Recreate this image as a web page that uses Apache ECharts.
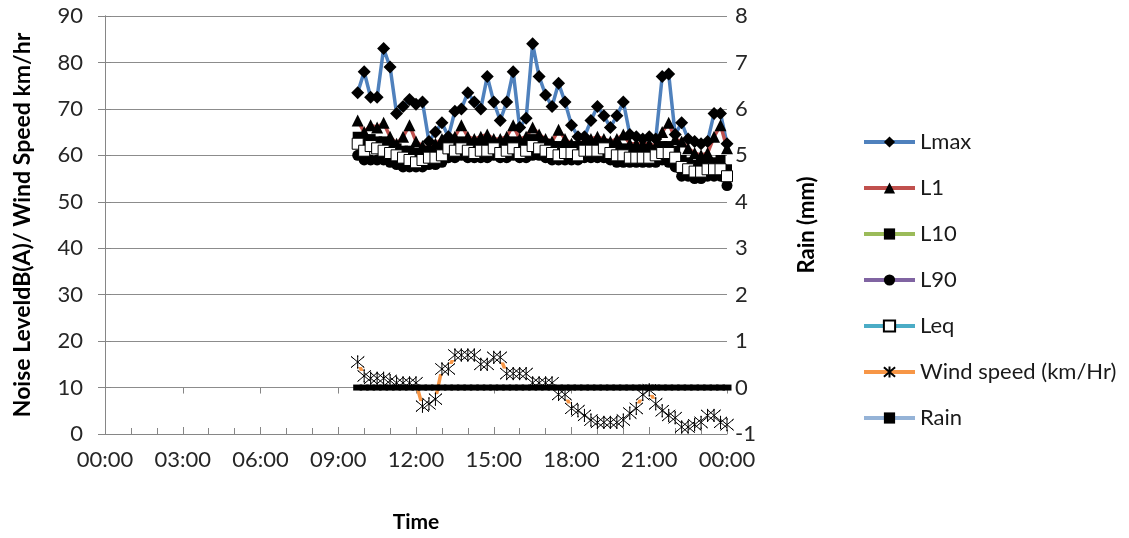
<!DOCTYPE html>
<html>
<head>
<meta charset="utf-8">
<script src="https://cdn.jsdelivr.net/npm/echarts@6/dist/echarts.min.js"></script>
<style>
  html, body { margin: 0; padding: 0; background: #fff; }
  #chart { width: 1129px; height: 538px; }
</style>
</head>
<body>
<div id="chart"></div>
<script>
// 15-minute readings, 09:45 to midnight
const times = [
  '09:45','10:00','10:15','10:30','10:45','11:00','11:15','11:30','11:45','12:00',
  '12:15','12:30','12:45','13:00','13:15','13:30','13:45','14:00','14:15','14:30',
  '14:45','15:00','15:15','15:30','15:45','16:00','16:15','16:30','16:45','17:00',
  '17:15','17:30','17:45','18:00','18:15','18:30','18:45','19:00','19:15','19:30',
  '19:45','20:00','20:15','20:30','20:45','21:00','21:15','21:30','21:45','22:00',
  '22:15','22:30','22:45','23:00','23:15','23:30','23:45','24:00'
];

const lmax = [
  73.5, 78, 72.5, 72.5, 83, 79, 69, 70.5, 72, 71,
  71.5, 63, 65, 67, 64, 69.5, 70, 73.5, 71.5, 70,
  77, 71.5, 67.5, 71.5, 78, 66, 68, 84, 77, 73,
  70.5, 75.5, 71.5, 66.5, 64, 64, 67.5, 70.5, 68.5, 66,
  68.5, 71.5, 64.5, 64, 63.5, 64, 63.5, 77, 77.5, 64.5,
  67, 63.5, 63, 62.5, 63, 69, 69, 62.5
];

const l1 = [
  67.5, 65, 66.5, 66, 67, 64, 62.5, 64, 66.5, 63,
  62, 61.5, 62.5, 63.5, 64, 64, 66.5, 64, 63.5, 64,
  64.5, 63.5, 63.5, 64, 66.5, 63.5, 64, 66, 64.5, 63.5,
  63, 65.5, 63.5, 62.5, 62.5, 63, 63.5, 64, 63.5, 63,
  63.5, 64.5, 62.5, 62.5, 62.5, 62.5, 62, 65, 67, 63.5,
  63, 61.5, 60.5, 60, 60.5, 64, 66.5, 61.5
];

const l10 = [
  64, 63, 63.5, 63, 63, 62, 61.5, 61, 61, 60.5,
  60.5, 61, 61, 61.5, 62.5, 62.5, 63, 62.5, 62, 62.5,
  62.5, 62.5, 62, 62.5, 63, 62, 62.5, 63.5, 63, 62.5,
  62, 62, 62, 62, 61.5, 62, 62.5, 62.5, 62.5, 62,
  61.5, 61.5, 61, 61, 61, 61, 61, 62, 62, 61,
  59, 58.5, 58, 58, 58.5, 58.5, 59, 57
];

const l90 = [
  60, 59, 59, 59, 59, 58.5, 58, 57.5, 57.5, 57.5,
  57.5, 58, 58, 58.5, 59.5, 59.5, 60, 59.5, 59.5, 59.5,
  59.5, 60, 59.5, 59.5, 60, 59.5, 59.5, 60, 60, 59.5,
  59, 59, 59, 59, 59, 59.5, 59.5, 59.5, 59.5, 59,
  58.5, 58.5, 58.5, 58.5, 58.5, 58.5, 58.5, 59, 58.5, 57.5,
  55.5, 55.5, 55, 55, 55.5, 55.5, 55.5, 53.5
];

const leq = [
  62.5, 61, 62, 61.5, 61, 60.5, 60, 59.5, 59, 58.5,
  59, 59.5, 59.5, 60, 61.5, 61, 61.5, 61, 60.5, 61,
  61, 61.5, 60.5, 61, 61.5, 60.5, 61, 62, 61.5, 61,
  60.5, 60, 60.5, 60.5, 60, 61, 61, 61, 61.5, 60.5,
  60, 60, 59.5, 59.5, 59.5, 59.5, 60, 60.5, 60.5, 59.5,
  57.5, 57, 56.5, 56.5, 57, 57, 57, 55.5
];

const windSpeed = [
  15.5, 12.5, 12, 12, 12, 11.5, 11, 11, 11, 11,
  6, 6.5, 7.5, 14, 14, 17, 17, 17, 17, 15,
  15, 16.5, 16.5, 13, 13, 13, 13, 11, 11, 11,
  11, 8.5, 8.5, 5.5, 5, 4, 3, 2.5, 2.5, 2.5,
  2.5, 3, 4.5, 5.5, 8.5, 9.5, 6.5, 5, 4, 3.5,
  1.5, 1.5, 2, 2.5, 4, 4, 2.5, 2
];

const rain = [
  0, 0, 0, 0, 0, 0, 0, 0, 0, 0,
  0, 0, 0, 0, 0, 0, 0, 0, 0, 0,
  0, 0, 0, 0, 0, 0, 0, 0, 0, 0,
  0, 0, 0, 0, 0, 0, 0, 0, 0, 0,
  0, 0, 0, 0, 0, 0, 0, 0, 0, 0,
  0, 0, 0, 0, 0, 0, 0, 0
];

const timeTickLabels = ['00:00','03:00','06:00','09:00','12:00','15:00','18:00','21:00','00:00'];

const FONT = 'Lato, "Open Sans", sans-serif';
const AXIS_GREY = '#868686';

function toHours(t) {
  const [h, m] = t.split(':').map(Number);
  return h + m / 60;
}
const xs = times.map(toHours);
const pairs = vals => vals.map((v, i) => [xs[i], v]);

// star marker: vertical stroke crossed by an X
const STAR = 'path://M5,0L5,10M0.6,0.8L9.4,9.2M0.6,9.2L9.4,0.8';

function noiseSeries(name, data, lineColor, symbol, size, fill, border) {
  return {
    name, type: 'line', data: pairs(data),
    xAxisIndex: 0, yAxisIndex: 0,
    symbol, symbolSize: size, showAllSymbol: true,
    lineStyle: { color: lineColor, width: 3.5 },
    itemStyle: { color: fill, borderColor: border || fill, borderWidth: border ? 1 : 0 },
    emphasis: { disabled: true }
  };
}

const chart = echarts.init(document.getElementById('chart'), null, { renderer: 'canvas' });

chart.setOption({
  animation: false,
  backgroundColor: '#fff',
  grid: { left: 105, right: 402, top: 16, bottom: 104 },
  legend: {
    orient: 'vertical',
    left: 862,
    top: 131,
    padding: 0,
    itemWidth: 51,
    itemHeight: 14,
    itemGap: 24,
    lineStyle: { width: 4 },
    textStyle: { fontFamily: FONT, fontSize: 22, color: '#1a1a1a' },
    data: ['Lmax', 'L1', 'L10', 'L90', 'Leq', 'Wind speed (km/Hr)', 'Rain']
  },
  xAxis: [
    {
      type: 'value', min: 0, max: 24, interval: 3,
      name: 'Time', nameLocation: 'middle', nameGap: 78,
      nameTextStyle: { fontFamily: FONT, fontSize: 21, fontWeight: 'bold', color: '#000' },
      axisLine: { show: true, lineStyle: { color: AXIS_GREY, width: 1 } },
      axisTick: { show: true, inside: true, length: 7, lineStyle: { color: AXIS_GREY } },
      minorTick: { show: true, splitNumber: 3, length: 6, lineStyle: { color: AXIS_GREY } },
      axisLabel: {
        margin: 15, fontFamily: FONT, fontSize: 22, color: '#262626',
        formatter: v => timeTickLabels[Math.round(v / 3)]
      },
      splitLine: { show: false }
    },
    {
      // outward half of the major ticks
      type: 'value', min: 0, max: 24, interval: 3, position: 'bottom',
      axisLine: { show: false },
      axisTick: { show: true, inside: false, length: 6, lineStyle: { color: AXIS_GREY } },
      axisLabel: { show: false },
      splitLine: { show: false }
    }
  ],
  yAxis: [
    {
      type: 'value', min: 0, max: 90, interval: 10, position: 'left',
      name: 'Noise LeveldB(A)/ Wind Speed km/hr', nameLocation: 'middle', nameGap: 71,
      nameTextStyle: { fontFamily: FONT, fontSize: 23, fontWeight: 'bold', color: '#000' },
      axisLine: { show: true, lineStyle: { color: AXIS_GREY } },
      axisTick: { show: true, inside: false, length: 7, lineStyle: { color: AXIS_GREY } },
      axisLabel: { margin: 22, fontFamily: FONT, fontSize: 22, color: '#262626' },
      splitLine: { show: true, lineStyle: { color: '#8c8c8c', width: 1 } }
    },
    {
      type: 'value', min: -1, max: 8, interval: 1, position: 'right',
      name: 'Rain (mm)', nameLocation: 'middle', nameGap: 69,
      nameTextStyle: { fontFamily: FONT, fontSize: 22, fontWeight: 'bold', color: '#000' },
      axisLine: { show: true, lineStyle: { color: AXIS_GREY } },
      axisTick: { show: true, inside: false, length: 6, lineStyle: { color: AXIS_GREY } },
      axisLabel: { margin: 8, fontFamily: FONT, fontSize: 22, color: '#262626' },
      splitLine: { show: false }
    }
  ],
  series: [
    noiseSeries('Lmax', lmax, '#4F81BD', 'diamond', 13, '#000'),
    noiseSeries('L1', l1, '#C0504D', 'triangle', 12, '#000'),
    noiseSeries('L10', l10, '#9BBB59', 'rect', 10, '#000'),
    noiseSeries('L90', l90, '#8064A2', 'circle', 11, '#000'),
    noiseSeries('Leq', leq, '#4BACC6', 'rect', 11, '#fff', '#000'),
    {
      name: 'Wind speed (km/Hr)', type: 'line', data: pairs(windSpeed),
      xAxisIndex: 0, yAxisIndex: 0,
      symbol: STAR, symbolSize: 13, showAllSymbol: true,
      lineStyle: { color: '#F79646', width: 3.5 },
      itemStyle: { color: 'rgba(0,0,0,0)', borderColor: '#000', borderWidth: 1 },
      emphasis: { disabled: true }
    },
    {
      // white backing behind each wind marker, hiding the line under it
      name: 'windMarkerFill', type: 'line', data: pairs(windSpeed),
      xAxisIndex: 0, yAxisIndex: 0,
      symbol: 'rect', symbolSize: 10, showAllSymbol: true,
      lineStyle: { width: 0, opacity: 0 },
      itemStyle: { color: '#fff' },
      emphasis: { disabled: true }, silent: true
    },
    {
      name: 'windMarkerStar', type: 'line', data: pairs(windSpeed),
      xAxisIndex: 0, yAxisIndex: 0,
      symbol: STAR, symbolSize: 13, showAllSymbol: true,
      lineStyle: { width: 0, opacity: 0 },
      itemStyle: { color: 'rgba(0,0,0,0)', borderColor: '#000', borderWidth: 1 },
      emphasis: { disabled: true }, silent: true
    },
    {
      name: 'Rain', type: 'line', data: pairs(rain),
      xAxisIndex: 0, yAxisIndex: 1,
      symbol: 'rect', symbolSize: [9, 6], showAllSymbol: true,
      lineStyle: { color: '#95B3D7', width: 3 },
      itemStyle: { color: '#000' },
      emphasis: { disabled: true }
    }
  ]
});
</script>
</body>
</html>
